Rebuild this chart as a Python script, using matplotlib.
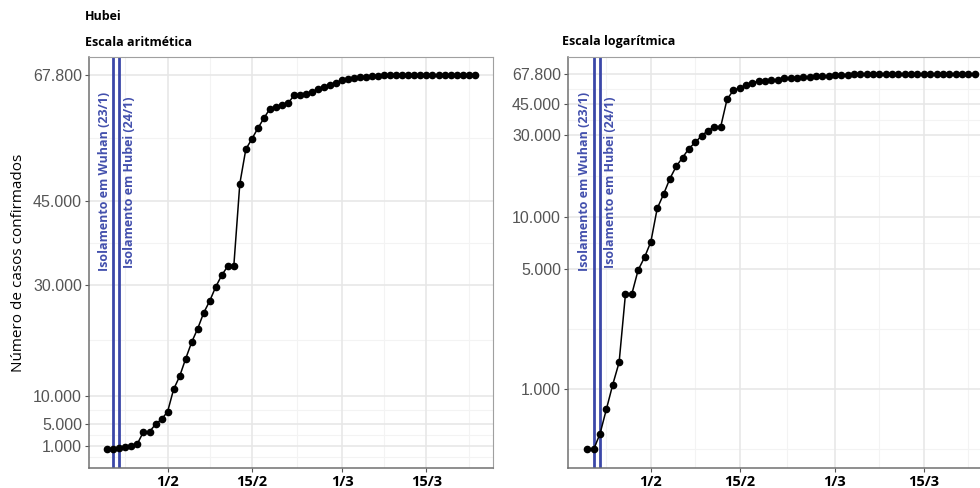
import numpy as np
import pandas as pd
import matplotlib
matplotlib.use("Agg")
import matplotlib.pyplot as plt
import matplotlib.dates as mdates

# Hubei cumulative confirmed cases, 22/1/2020 onwards
cases = [444, 444, 549, 761, 1058, 1423, 3554, 3554, 4903, 5806,
         7153, 11177, 13522, 16678, 19665, 22112, 24953, 27100, 29631, 31728,
         33366, 33366, 48206, 54406, 56249, 58182, 59989, 61682, 62031, 62442,
         62662, 64084, 64084, 64287, 64786, 65187, 65596, 65914, 66337, 66907,
         67103, 67217, 67332, 67466, 67592, 67666, 67707, 67743, 67760, 67773,
         67781, 67786, 67790, 67794, 67798, 67799, 67800, 67800, 67800, 67800,
         67800, 67800]
dates = pd.date_range("2020-01-22", periods=len(cases), freq="D")

y_ticks = [1000, 5000, 10000, 30000, 45000, 67800]
y_labels = ["1.000", "5.000", "10.000", "30.000", "45.000", "67.800"]
x_ticks = pd.to_datetime(["2020-02-01", "2020-02-15", "2020-03-01", "2020-03-15"])
x_labels = ["1/2", "15/2", "1/3", "15/3"]

lockdowns = pd.to_datetime(["2020-01-23", "2020-01-24"])
lockdown_labels = ["Isolamento em Wuhan (23/1)", "Isolamento em Hubei (24/1)"]

blue = "#3b47a8"
W, H = 980, 488
fig = plt.figure(figsize=(W / 100, H / 100), dpi=100)

def box(x0, y0, x1, y1):
    return [x0 / W, 1 - y1 / H, (x1 - x0) / W, (y1 - y0) / H]

ax1 = fig.add_axes(box(89, 57, 493, 468))
ax2 = fig.add_axes(box(568, 57, 994, 468))

pad = pd.Timedelta(days=3.05)
xlim = (mdates.date2num(dates[0] - pad), mdates.date2num(dates[-1] + pad))

# minor breaks, ggplot style (midpoints between majors)
x_minor = pd.to_datetime(["2020-01-25T00:00", "2020-02-08T00:00", "2020-02-22T12:00",
                          "2020-03-08T00:00", "2020-03-22T00:00"])
lin_minor = [-1000, 3000, 7500, 20000, 37500, 56400]
lt = np.log10(y_ticks)
log_minor = list(10 ** ((lt[:-1] + lt[1:]) / 2)) + [10 ** (lt[0] - (lt[1] - lt[0]) / 2)]

for ax, minor in ((ax1, lin_minor), (ax2, log_minor)):
    for v in minor:
        ax.axhline(v, color="#f3f3f3", lw=0.8, zorder=0)
    for d in x_minor:
        ax.axvline(d, color="#f3f3f3", lw=0.8, zorder=0)
    for v in y_ticks:
        ax.axhline(v, color="#e6e6e6", lw=1.1, zorder=0)
    for d in x_ticks:
        ax.axvline(d, color="#e6e6e6", lw=1.1, zorder=0)

    for d in lockdowns:
        ax.axvline(d, color=blue, lw=2.0, zorder=2)
    ax.annotate(lockdown_labels[0], (mdates.date2num(lockdowns[0]), 0.915),
                xycoords=ax.get_xaxis_transform(),
                xytext=(-2, 0), textcoords="offset points",
                rotation=90, ha="right", va="top", color="#4350ad", fontsize=9,
                fontweight="bold", family="Open Sans")
    ax.annotate(lockdown_labels[1], (mdates.date2num(lockdowns[1]), 0.905),
                xycoords=ax.get_xaxis_transform(),
                xytext=(2.5, 0), textcoords="offset points",
                rotation=90, ha="left", va="top", color="#4350ad", fontsize=9,
                fontweight="bold", family="Open Sans")

    ax.plot(dates, cases, color="black", lw=1.1, marker="o", ms=4.5, zorder=3)

    ax.set_xlim(xlim)
    ax.set_xticks(x_ticks)
    ax.set_xticklabels(x_labels, fontsize=10.5, fontweight="bold", family="Open Sans")
    ax.set_yticks(y_ticks)
    ax.set_yticklabels(y_labels, fontsize=11.5, color="#555555", family="Liberation Sans")
    ax.yaxis.set_minor_locator(matplotlib.ticker.NullLocator())
    ax.tick_params(axis="both", length=3, width=0.8, color="#555555", pad=2)
    for s in ("top", "right"):
        ax.spines[s].set_color("#a0a0a0")
    for s in ("left", "bottom"):
        ax.spines[s].set_color("#707070")
        ax.spines[s].set_linewidth(1.1)

ax1.set_ylim(-2970, 71000)
ax2.set_yscale("log")
ax2.set_yticks(y_ticks)
ax2.set_yticklabels(y_labels, fontsize=11.5, color="#555555", family="Liberation Sans")
ax2.yaxis.set_minor_locator(matplotlib.ticker.NullLocator())
ax2.set_ylim(346, 85000)

ax1.set_ylabel("Número de casos confirmados", fontsize=11, family="Open Sans")
ax1.yaxis.set_label_coords(-63 / 404, 0.5)

fig.text(85 / W, 1 - 17 / H, "Hubei", fontsize=9, fontweight="bold",
         family="Open Sans", va="center")
fig.text(85 / W, 1 - 42 / H, "Escala aritmética", fontsize=9, fontweight="bold",
         family="Open Sans", va="center")
fig.text(562 / W, 1 - 42 / H, "Escala logarítmica", fontsize=9, fontweight="bold",
         family="Open Sans", va="center")

fig.savefig("out.png", dpi=100)
